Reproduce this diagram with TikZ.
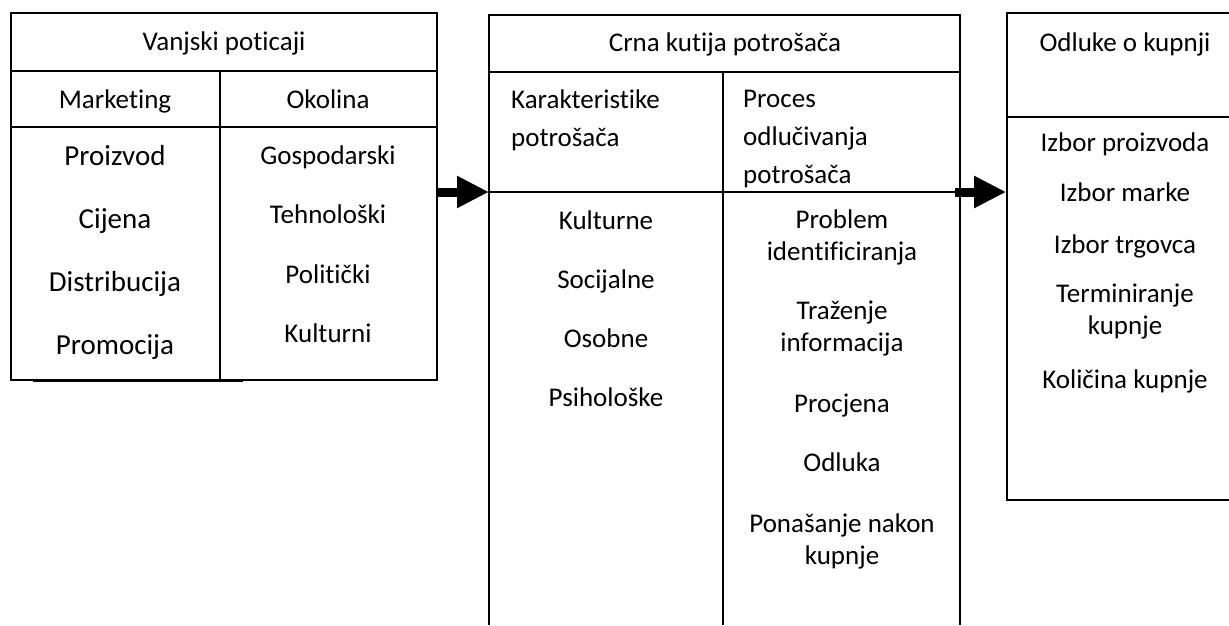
\documentclass[tikz,border=0pt]{standalone}
\usepackage{fontspec}
\setmainfont{Carlito}[Ligatures=NoCommon]
\usetikzlibrary{positioning, arrows.meta}

\begin{document}
\begin{tikzpicture}[x=1pt, y=-1pt,
        okvir/.style={draw=black, line width=1.6pt, inner sep=0pt},
        tekst/.style={font=\fontsize{27}{32}\selectfont, align=center, inner sep=0pt},
        red/.style={text height=22pt, text depth=6pt},
        veliki/.style={font=\fontsize{29}{35}\selectfont, inner sep=0pt, text height=24pt, text depth=6.5pt},
        blok/.style={line width=9pt, -{Triangle[length=32pt, width=30pt]}}]
    \useasboundingbox (0,0) rectangle (1229,625);

    % boxes
    \node[okvir, minimum width=426pt, minimum height=367pt] (vanjski) at (224,196.5) {};
    \node[okvir, minimum width=225pt, minimum height=487pt] (odluke) at (1119.5,256.5) {};
    \coordinate (ulaz) at (489,192);
    \coordinate (izlaz) at (955,192);

    % left table
    \draw[okvir] (11,71) -- (437,71);
    \draw[okvir] (11,127) -- (437,127);
    \draw[okvir] (220,71) -- (220,380);
    \draw[line width=1.4pt] (33,381.5) -- (243,381.5);

    % middle table (open at the bottom)
    \draw[okvir] (489,625) -- (489,15) -- (960,15) -- (960,625);
    \draw[okvir] (489,72) -- (960,72);
    \draw[okvir] (489,192) -- (960,192);
    \draw[okvir] (723,72) -- (723,625);

    % right table
    \draw[okvir] (1007,117) -- (1232,117);

    % arrows
    \draw[blok] (vanjski.east |- ulaz) -- (ulaz);
    \draw[blok] (izlaz) -- (odluke.west |- izlaz);

    \node[tekst, red] (vp) at (224,42) {Vanjski poticaji};
    \node[tekst, red] (mk) at (115,100) {Marketing};
    \node[tekst, red] (ok) at (328,100) {Okolina};
    \node[veliki] (p1) at (115,157) {Proizvod};
    \node[veliki] (p2) at (115,220) {Cijena};
    \node[veliki] (p3) at (115,283) {Distribucija};
    \node[veliki] (p4) at (115,346) {Promocija};
    \node[tekst, red] (o1) at (328,156) {Gospodarski};
    \node[tekst, red] (o2) at (328,215) {Tehnološki};
    \node[tekst, red] (o3) at (328,275) {Politički};
    \node[tekst, red] (o4) at (328,334) {Kulturni};

    \node[tekst, red] (ck) at (725,43) {Crna kutija potrošača};
    \node[tekst, font=\fontsize{27}{38}\selectfont, align=left, anchor=west] (kp) at (511,120) {Karakteristike\\potrošača};
    \node[tekst, font=\fontsize{27}{38}\selectfont, align=left, anchor=west] (po) at (743,139) {Proces\\odlučivanja\\potrošača};
    \node[tekst, red] (k1) at (606,221) {Kulturne};
    \node[tekst, red] (k2) at (606,280) {Socijalne};
    \node[tekst, red] (k3) at (606,339) {Osobne};
    \node[tekst, red] (k4) at (606,398) {Psihološke};
    \node[tekst] (f1) at (842,237) {Problem\\identificiranja};
    \node[tekst] (f2) at (842,329) {Traženje\\informacija};
    \node[tekst, red] (f3) at (842,404) {Procjena};
    \node[tekst, red] (f4) at (842,463) {Odluka};
    \node[tekst] (f5) at (842,541) {Ponašanje nakon\\kupnje};

    \node[tekst, red] (ok0) at (1125,43) {Odluke o kupnji};
    \node[tekst, red] (d1) at (1125,143) {Izbor proizvoda};
    \node[tekst, red] (d2) at (1125,193) {Izbor marke};
    \node[tekst, red] (d3) at (1125,245) {Izbor trgovca};
    \node[tekst] (d4) at (1125,312) {Terminiranje\\kupnje};
    \node[tekst, red] (d5) at (1125,380) {Količina kupnje};
\end{tikzpicture}
\end{document}
